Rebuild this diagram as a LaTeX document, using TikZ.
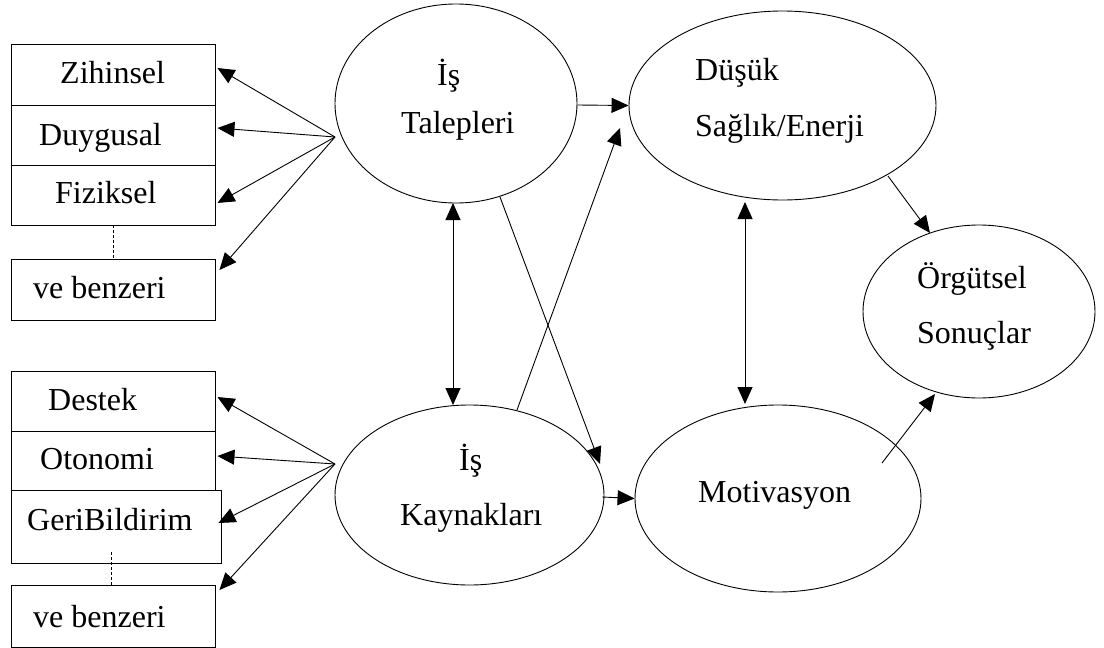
\documentclass[tikz,border=0pt]{standalone}
\usepackage{fontspec}
\setmainfont{Liberation Serif}
\usetikzlibrary{arrows.meta,shapes.geometric,calc}
\tikzset{
  box/.style={draw, line width=0.9pt, rectangle, inner sep=0pt, minimum width=204pt},
  oval/.style={draw, line width=0.9pt, ellipse, inner sep=0pt},
  txt/.style={inner sep=0pt, anchor=base west, font=\fontsize{32}{38}\selectfont},
  arr/.style={line width=0.9pt, -{Triangle[length=17pt,width=15pt]}},
  darr/.style={line width=0.9pt, {Triangle[length=17pt,width=15pt]}-{Triangle[length=17pt,width=15pt]}},
  ln/.style={line width=0.9pt},
  dsh/.style={line width=0.9pt, dash pattern=on 3pt off 2pt}
}
\begin{document}
\begin{tikzpicture}[x=1pt,y=-1pt]
\useasboundingbox (0,0) rectangle (1104,648);
% left boxes (top group)
\node[box, minimum height=61pt] (zih) at (113,74.5) {};
\node[box, minimum height=60pt] (duy) at (113,135) {};
\node[box, minimum height=60pt] (fiz) at (113,195) {};
\node[box, minimum height=61pt] (vb1) at (113,289.5) {};
\node[txt] (tzih) at (60,83) {Zihinsel};
\node[txt] (tduy) at (39,145) {Duygusal};
\node[txt] (tfiz) at (55,203) {Fiziksel};
\node[txt] (tvb1) at (33,298) {ve benzeri};
% left boxes (bottom group)
\node[box, minimum height=60pt] (des) at (113,401) {};
\node[box, minimum height=59pt] (oto) at (113,460.5) {};
\node[box, minimum height=73pt, minimum width=210pt] (geri) at (116,526.5) {};
\node[box, minimum height=62pt] (vb2) at (113,616) {};
\node[txt] (tdes) at (48,410) {Destek};
\node[txt] (toto) at (40,469) {Otonomi};
\node[txt] (tgeri) at (27,530) {GeriBildirim};
\node[txt] (tvb2) at (33,627) {ve benzeri};
% ellipses
\node[oval, minimum width=242pt, minimum height=199pt] (tal) at (456,103.5) {};
\node[oval, minimum width=307pt, minimum height=189pt] (dus) at (782.5,105.5) {};
\node[oval, minimum width=269pt, minimum height=180pt] (kay) at (469.5,495) {};
\node[oval, minimum width=286pt, minimum height=187pt] (mot) at (778,498.5) {};
\node[oval, minimum width=232pt, minimum height=173pt] (org) at (979,311.5) {};
\node[txt] (ttal1) at (437,85) {İş};
\node[txt] (ttal2) at (401,133) {Talepleri};
\node[txt] (tdus1) at (695,80) {Düşük};
\node[txt] (tdus2) at (695,136) {Sağlık/Enerji};
\node[txt] (tkay1) at (459,470) {İş};
\node[txt] (tkay2) at (400,525) {Kaynakları};
\node[txt] (tmot) at (698,502) {Motivasyon};
\node[txt] (torg1) at (917,288) {Örgütsel};
\node[txt] (torg2) at (917,343) {Sonuçlar};
% fan points
\coordinate (tf) at ($(tal.center)+(-121,33.5)$);
\coordinate (kf) at ($(kay.center)+(-134.5,-31)$);
% fan arrows top
\draw[arr] (tf) -- ([shift={(2,-6.5)}]zih.east);
\draw[arr] (tf) -- ([shift={(2,-7)}]duy.east);
\draw[arr] (tf) -- ([shift={(2,8)}]fiz.east);
\draw[arr] (tf) -- ([shift={(4,-19.5)}]vb1.east);
% fan arrows bottom
\draw[arr] (kf) -- ([shift={(2,-4)}]des.east);
\draw[arr] (kf) -- ([shift={(2,-4.5)}]oto.east);
\draw[arr] (kf) -- ([shift={(-3,-3.5)}]geri.east);
\draw[arr] (kf) -- ([shift={(4,-26)}]vb2.east);
% dashed links
\draw[dsh] (fiz.south) -- (vb1.north);
\draw[dsh] ([shift={(-5,25.5)}]geri.center) -- ([shift={(-2,0)}]vb2.north);
% main arrows
\draw[arr] ([shift={(0,1.5)}]tal.east) -- (dus.west);
\draw[arr] ([shift={(47.5,-85)}]kay.center) -- ([shift={(-162.5,22.5)}]dus.center);
\draw[arr] ([shift={(44,93.5)}]tal.center) -- ([shift={(130.5,-31)}]kay.center);
\draw[darr] ([shift={(-3,99.5)}]tal.center) -- ([shift={(-16.5,-90)}]kay.center);
\draw[arr] ([shift={(-2,2)}]kay.east) -- (mot.west);
\draw[darr] ([shift={(-37.5,96.5)}]dus.center) -- ([shift={(-33,-94.5)}]mot.center);
\draw[arr] ([shift={(105.5,70.5)}]dus.center) -- ([shift={(-49,-78.5)}]org.center);
\draw[arr] ([shift={(104,-35.5)}]mot.center) -- ([shift={(-44,82.5)}]org.center);
\end{tikzpicture}
\end{document}
